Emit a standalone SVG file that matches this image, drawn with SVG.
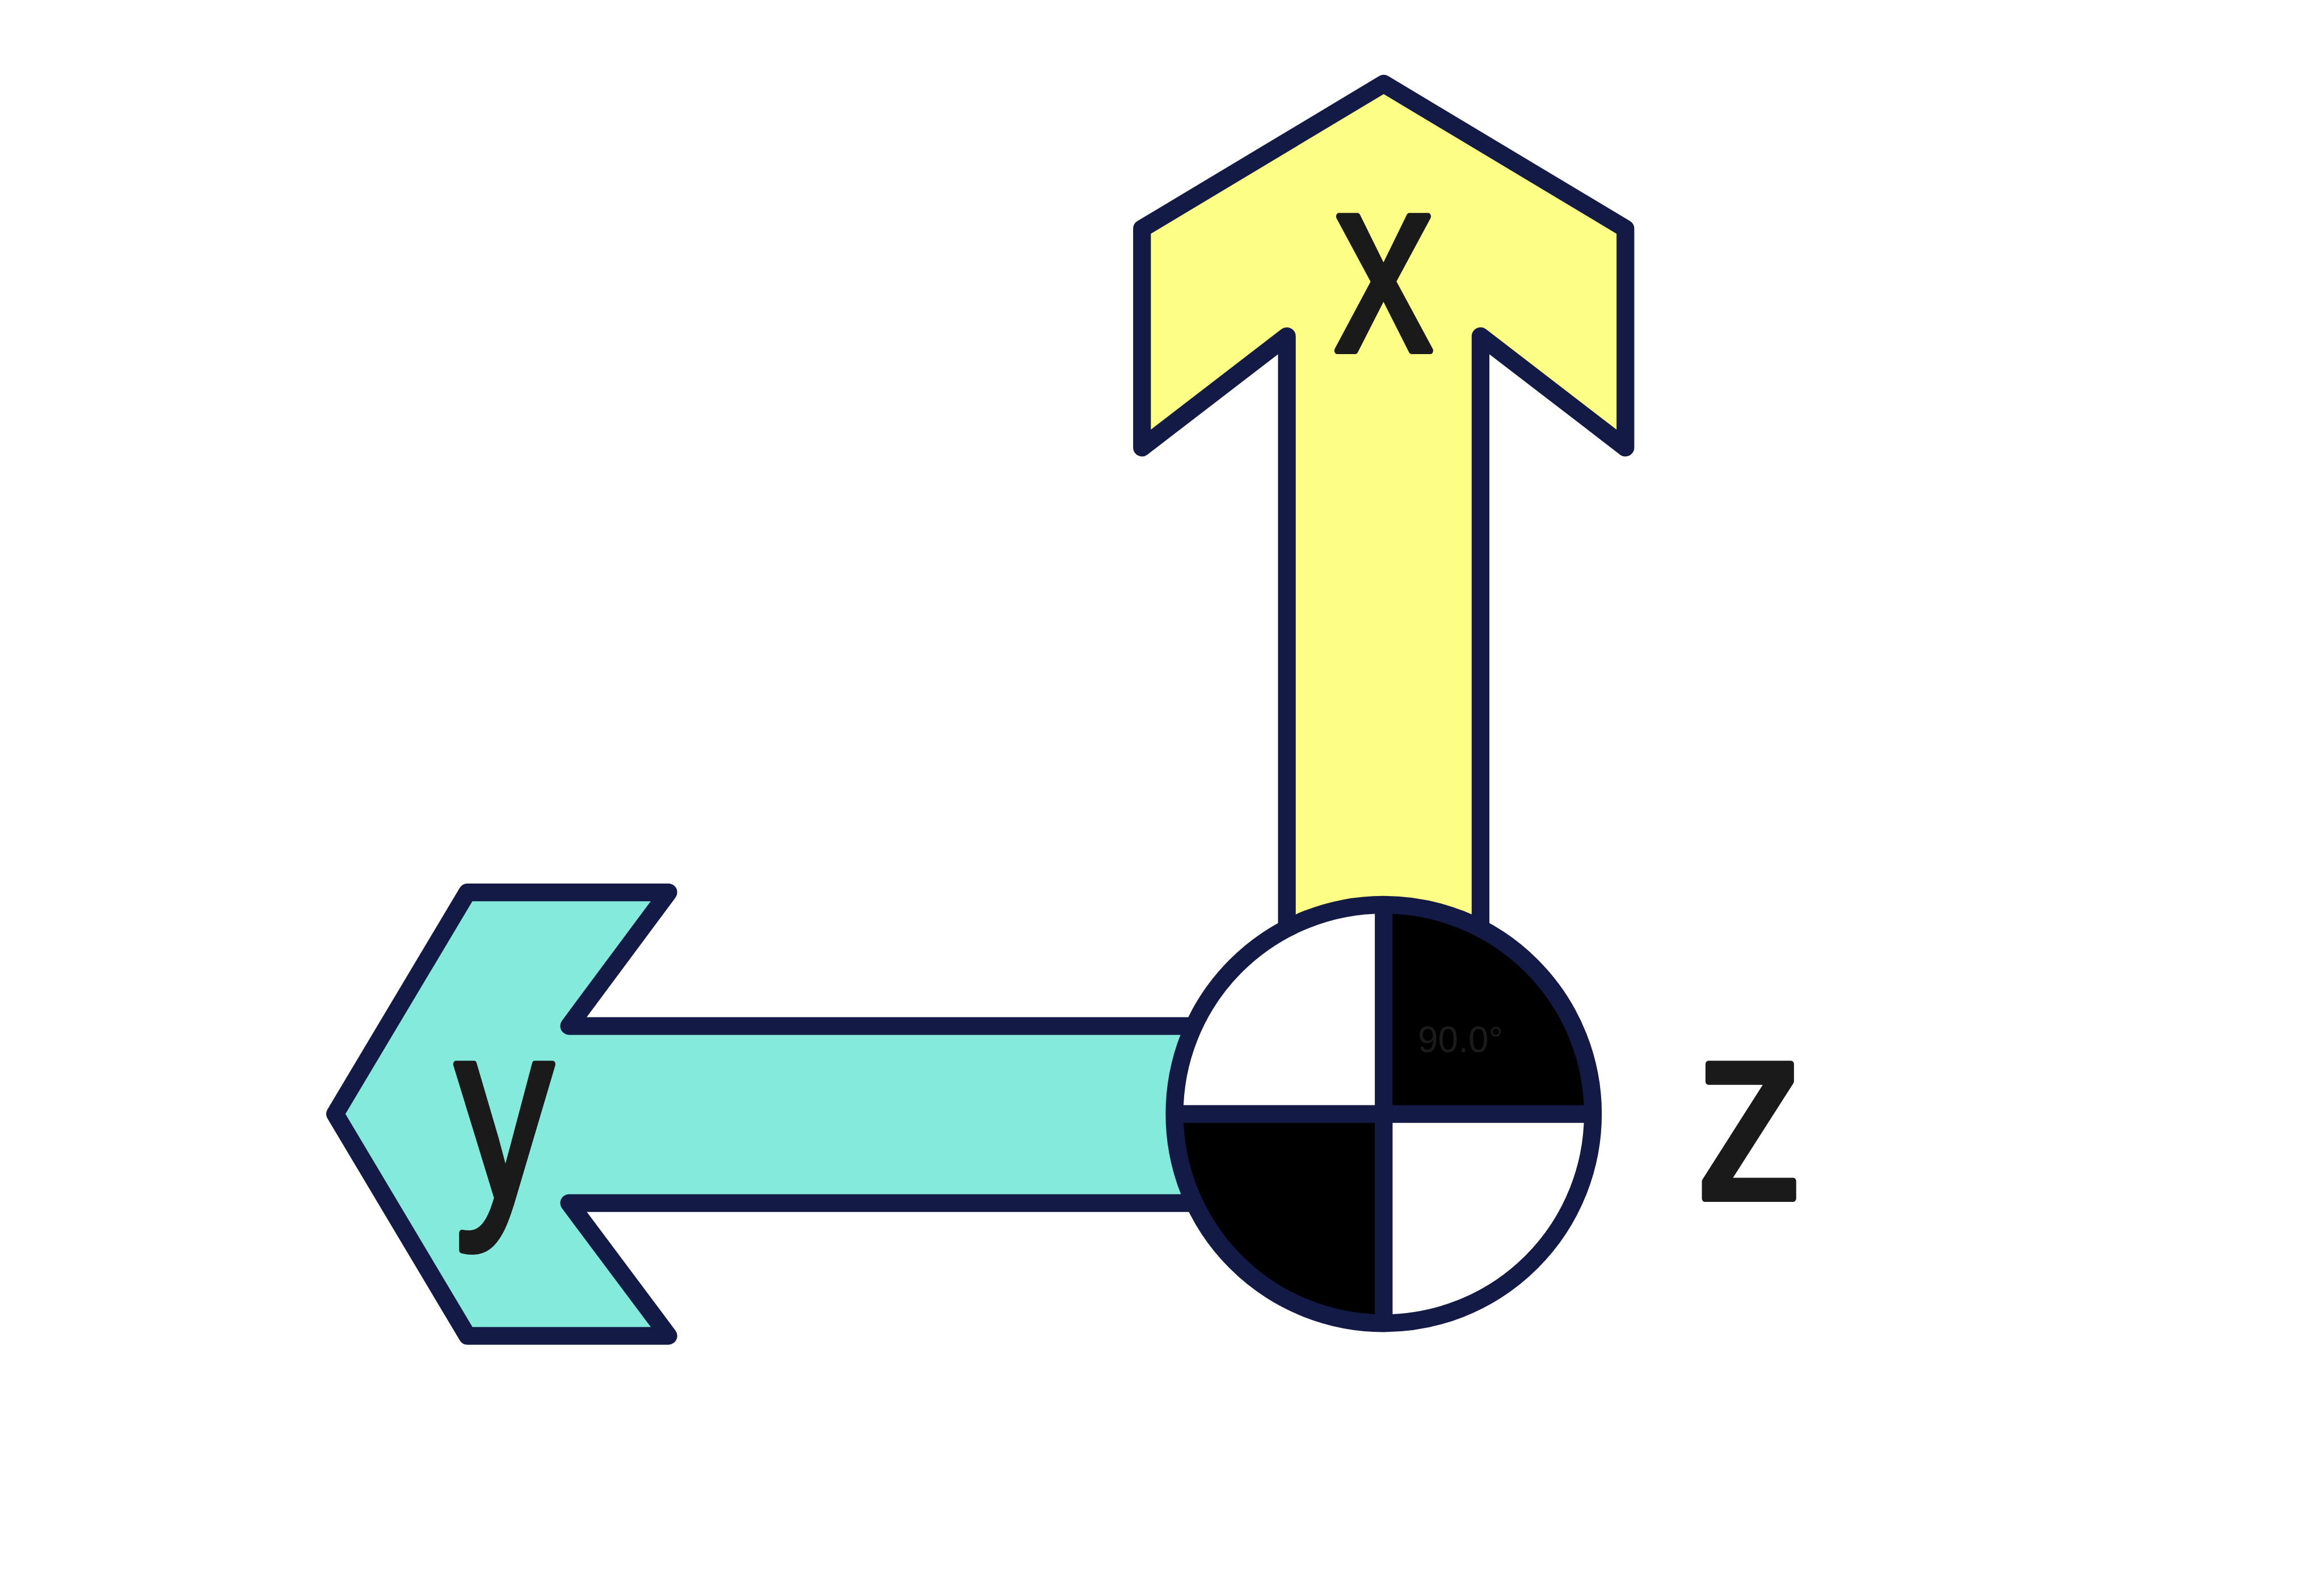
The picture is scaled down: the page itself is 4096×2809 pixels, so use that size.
<svg xmlns="http://www.w3.org/2000/svg" width="4096" height="2809" viewBox="0 0 4096 2809">
<style>
.arrow{stroke:#131A46;stroke-width:31.25;stroke-linejoin:round;stroke-linecap:round}
.ax{fill:#FCFE86}
.ay{fill:#84EBDC}
.ring{fill:none;stroke:#131A46;stroke-width:31.25}
.cross{stroke:#131A46;stroke-width:31.25;stroke-linecap:butt}
.lbl{font-family:"Liberation Sans",Arial,sans-serif;font-size:448px;fill:#1A1A1A;stroke:#1A1A1A;stroke-width:12;stroke-linejoin:round;text-anchor:middle}
.ang{font-family:"Liberation Sans",Arial,sans-serif;font-size:64px;fill:#1B1B1B}
</style>
<rect width="4096" height="2809" fill="#FFFFFF"/>
<g id="connectors"></g>
<g id="y-axis">
<polygon class="arrow ay" points="590.6,1963 823.75,1572.5 1178,1572.5 1003,1808 2438.75,1808 2438.75,2120 1003,2120 1178,2354 823.75,2354"/>
<text class="lbl" transform="translate(888.75,2112) scale(0.77,1)">y</text>
</g>
<g id="x-axis">
<polygon class="arrow ax" points="2438.75,147.5 2864.75,403 2864.75,788.75 2609.4,592.5 2609.4,1963 2268.1,1963 2268.1,592.5 2012.75,788.75 2012.75,403"/>
<text class="lbl" transform="translate(2438.75,618) scale(0.77,1)">x</text>
</g>
<g id="z-axis">
<circle cx="2438.75" cy="1963" r="368.75" fill="#FFFFFF"/>
<path d="M2438.75,1963 L2438.75,1594.25 A368.75,368.75 0 0 1 2807.5,1963 Z" fill="#000000"/>
<path d="M2438.75,1963 L2438.75,2331.75 A368.75,368.75 0 0 1 2070,1963 Z" fill="#000000"/>
<line class="cross" x1="2070" y1="1963" x2="2807.5" y2="1963"/>
<line class="cross" x1="2438.75" y1="1594.25" x2="2438.75" y2="2331.75"/>
<circle class="ring" cx="2438.75" cy="1963" r="368.75"/>
<text class="ang" x="2499" y="1854">90.0°</text>
<text class="lbl" transform="translate(3084.4,2112) scale(0.85,1)">z</text>
</g>
</svg>
